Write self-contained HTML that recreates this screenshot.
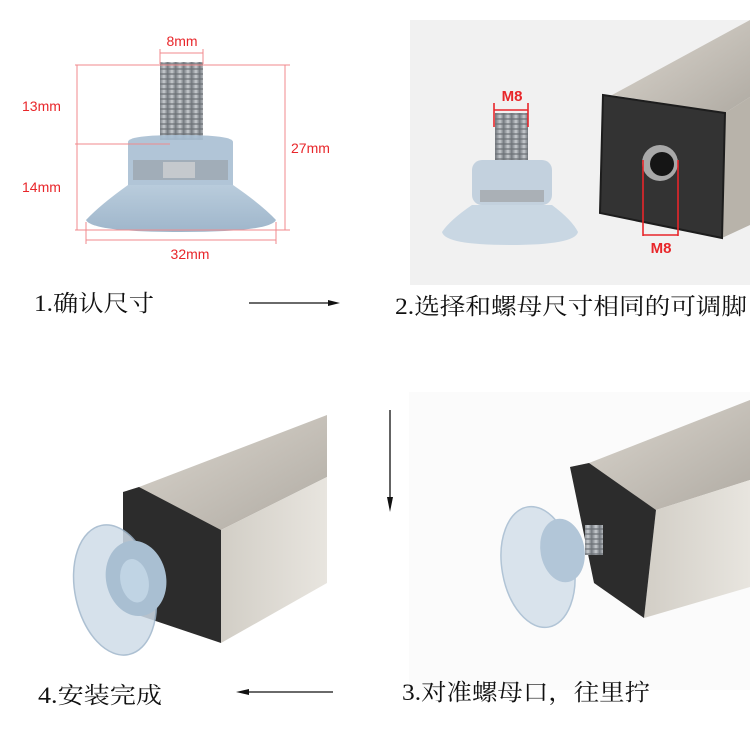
<!DOCTYPE html>
<html><head><meta charset="utf-8"><style>
html,body{margin:0;padding:0;background:#fff}
svg{display:block}
.cap{font-family:"Liberation Serif","Noto Serif CJK SC",serif;font-size:23px;fill:#111}
.red{font-family:"Liberation Sans",sans-serif;font-size:14px;fill:#e8262a}
.redb{font-family:"Liberation Sans",sans-serif;font-size:15px;font-weight:bold;fill:#e8262a}
</style></head><body>
<svg width="750" height="750" viewBox="0 0 750 750" xmlns="http://www.w3.org/2000/svg">
<defs>
<linearGradient id="steel" x1="0" y1="0" x2="1" y2="1">
<stop offset="0" stop-color="#dcd8d0"/><stop offset="0.5" stop-color="#c6c1b9"/><stop offset="1" stop-color="#b0aba3"/></linearGradient>
<linearGradient id="steel2" x1="0" y1="0" x2="1" y2="0">
<stop offset="0" stop-color="#d2cec6"/><stop offset="1" stop-color="#e8e5df"/></linearGradient>
<linearGradient id="cup" x1="0" y1="0" x2="0" y2="1">
<stop offset="0" stop-color="#b9ccdc"/><stop offset="1" stop-color="#9fb6cb"/></linearGradient>
<linearGradient id="bolt" x1="0" y1="0" x2="1" y2="0">
<stop offset="0" stop-color="#7d8288"/><stop offset="0.5" stop-color="#c8ccd0"/><stop offset="1" stop-color="#6f747a"/></linearGradient>
<pattern id="thr" width="8" height="5" patternUnits="userSpaceOnUse"><rect width="8" height="5" fill="url(#bolt)"/><rect y="3" width="8" height="2" fill="#6a6f75" opacity="0.6"/></pattern>
</defs>

<rect x="160" y="62" width="43" height="78" fill="url(#thr)"/>
<path d="M128 142 Q128 135 180 135 Q233 135 233 142 L233 185 L128 185 Z" fill="#a9bfd3" opacity="0.9"/>
<rect x="133" y="160" width="95" height="20" fill="#9aa3ab" opacity="0.7"/>
<rect x="163" y="162" width="32" height="16" fill="#c5c9cd"/>
<path d="M128 185 L233 185 Q262 205 276 220 Q270 232 181 232 Q92 232 86 220 Q100 205 128 185 Z" fill="url(#cup)"/>
<g stroke="#f08a8c" stroke-width="1" fill="none">
<line x1="75" y1="65" x2="290" y2="65"/>
<line x1="75" y1="144" x2="170" y2="144"/>
<line x1="75" y1="230" x2="290" y2="230"/>
<line x1="77" y1="65" x2="77" y2="230"/>
<line x1="285" y1="65" x2="285" y2="230"/>
<line x1="160" y1="53" x2="203" y2="53"/>
<line x1="160" y1="49" x2="160" y2="64"/><line x1="203" y1="49" x2="203" y2="64"/>
<line x1="86" y1="240" x2="276" y2="240"/>
<line x1="86" y1="222" x2="86" y2="244"/><line x1="276" y1="222" x2="276" y2="244"/>
</g>
<text class="red" x="182" y="46" text-anchor="middle">8mm</text>
<text class="red" x="22" y="111">13mm</text>
<text class="red" x="291" y="153">27mm</text>
<text class="red" x="22" y="192">14mm</text>
<text class="red" x="190" y="259" text-anchor="middle">32mm</text>

<text class="cap" x="34" y="311" textLength="120" lengthAdjust="spacingAndGlyphs">1.确认尺寸</text>
<line x1="249" y1="303" x2="332" y2="303" stroke="#111" stroke-width="1.3"/>
<path d="M340 303 L328 300 L328 306 Z" fill="#111"/>

<rect x="410" y="20" width="340" height="265" fill="#f1f1f1"/>
<polygon points="612,95 750,20 750,97 725,113" fill="url(#steel)"/>
<polygon points="725,113 750,97 750,225 722,238" fill="#b8b3aa"/>
<polygon points="603,95 725,113 722,238 600,213" fill="#333" stroke="#1d1d1d" stroke-width="2"/>
<circle cx="660" cy="163" r="18" fill="#a8a8a8"/>
<circle cx="662" cy="164" r="12" fill="#151515"/>
<rect x="495" y="113" width="33" height="50" fill="url(#thr)"/>
<rect x="472" y="160" width="80" height="45" rx="10" fill="#c3d1de"/>
<rect x="480" y="190" width="64" height="12" fill="#aab0b6"/>
<path d="M472 205 L552 205 Q572 220 578 232 Q575 245 510 245 Q445 245 442 232 Q450 220 472 205Z" fill="#c9d7e3"/>
<g stroke="#e8262a" stroke-width="1.6" fill="none">
<line x1="494" y1="110" x2="528" y2="110"/><line x1="494" y1="103" x2="494" y2="127"/><line x1="528" y1="103" x2="528" y2="127"/>
<line x1="643" y1="160" x2="643" y2="236"/><line x1="678" y1="160" x2="678" y2="236"/><line x1="643" y1="235" x2="678" y2="235"/>
</g>
<text class="redb" x="512" y="101" text-anchor="middle">M8</text>
<text class="redb" x="661" y="253" text-anchor="middle">M8</text>
<text class="cap" x="395" y="314" textLength="352" lengthAdjust="spacingAndGlyphs">2.选择和螺母尺寸相同的可调脚</text>

<line x1="390" y1="410" x2="390" y2="500" stroke="#111" stroke-width="1.3"/>
<path d="M390 512 L387 497 L393 497 Z" fill="#111"/>

<polygon points="139,487 327,415 327,477 221,530 123,492" fill="url(#steel)"/>
<polygon points="221,530 327,477 327,583 221,643" fill="url(#steel2)"/>
<polygon points="123,492 139,487 221,530 221,643 123,610" fill="#2c2c2c"/>
<g transform="rotate(-12 115 590)">
<ellipse cx="115" cy="590" rx="40" ry="66" fill="#cfdce8" opacity="0.85" stroke="#9fb6cb" stroke-width="1.5"/>
<ellipse cx="138" cy="583" rx="30" ry="38" fill="#a9bfd2"/>
<ellipse cx="136" cy="585" rx="14" ry="22" fill="#c0d4e4"/>
</g>

<rect x="409" y="392" width="341" height="298" fill="#fbfbfb"/>
<polygon points="589,463 750,400 750,480 656,510 570,467" fill="url(#steel)"/>
<polygon points="656,510 750,480 750,587 644,618" fill="url(#steel2)"/>
<polygon points="570,467 589,463 656,510 644,618 594,583" fill="#2c2c2c"/>
<rect x="585" y="525" width="18" height="30" fill="url(#thr)"/>
<g transform="rotate(-10 538 567)">
<ellipse cx="538" cy="567" rx="36" ry="61" fill="#d6e1eb" opacity="0.9" stroke="#a9bfd2" stroke-width="1.5"/>
<ellipse cx="565" cy="555" rx="22" ry="32" fill="#b2c6d8"/>
</g>

<text class="cap" x="38" y="703" textLength="124" lengthAdjust="spacingAndGlyphs">4.安装完成</text>
<line x1="246" y1="692" x2="333" y2="692" stroke="#111" stroke-width="1.3"/>
<path d="M236 692 L249 689 L249 695 Z" fill="#111"/>
<text class="cap" x="402" y="700" textLength="248" lengthAdjust="spacingAndGlyphs">3.对准螺母口，往里拧</text>
</svg>
</body></html>
